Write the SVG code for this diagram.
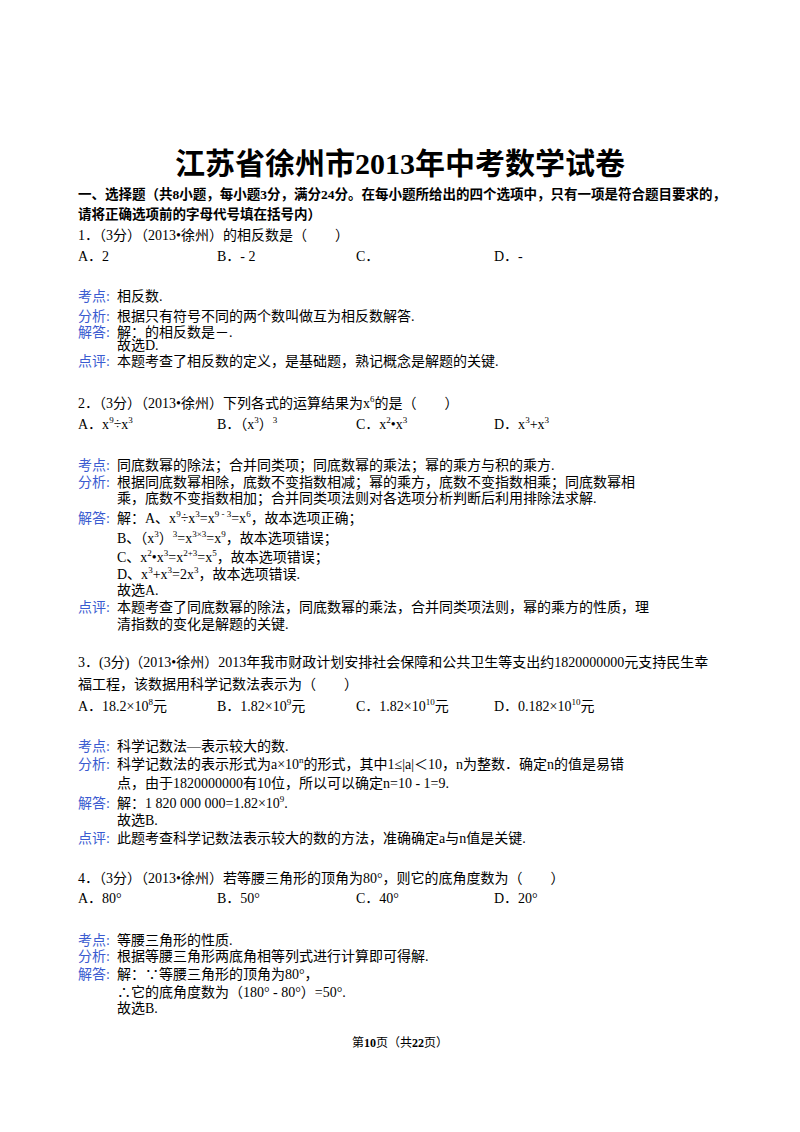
<svg xmlns="http://www.w3.org/2000/svg" width="800" height="1132" viewBox="0 0 800 1132">
<style>
text{font-family:"Liberation Serif","Noto Sans CJK SC",serif;font-size:14px;fill:#000}
.t{font-size:30px;font-weight:bold}
.h{font-size:13.5px;font-weight:bold}
.l{fill:#3a5bd0}
.f{font-size:12px}
</style>
<rect width="800" height="1132" fill="#fff"/>
<text class="t" x="400" y="174" text-anchor="middle">江苏省徐州市2013年中考数学试卷</text>
<text class="h" x="78" y="199">一、选择题（共8小题，每小题3分，满分24分。在每小题所给出的四个选项中，只有一项是符合题目要求的，</text>
<text class="h" x="78" y="219">请将正确选项前的字母代号填在括号内）</text>
<g id="q1">
<text x="78" y="240">1．（3分）（2013•徐州）的相反数是（　　）</text>
<text x="78" y="261">A．2</text><text x="217" y="261">B．- 2</text><text x="356" y="261">C．</text><text x="494" y="261">D．-</text>
<text x="78" y="301"><tspan class="l">考点:</tspan><tspan x="117">相反数.</tspan></text>
<text x="78" y="321"><tspan class="l">分析:</tspan><tspan x="117">根据只有符号不同的两个数叫做互为相反数解答.</tspan></text>
<text x="78" y="337" font-size="13.5"><tspan class="l">解答:</tspan><tspan x="117">解：的相反数是－.</tspan></text>
<text x="117" y="350" font-size="13.5">故选D.</text>
<text x="78" y="366"><tspan class="l">点评:</tspan><tspan x="117">本题考查了相反数的定义，是基础题，熟记概念是解题的关键.</tspan></text>
</g>
<g id="q2">
<text x="78" y="408">2．（3分）（2013•徐州）下列各式的运算结果为x<tspan font-size="9" dy="-6">6</tspan><tspan dy="6">的是（　　）</tspan></text>
<text x="78" y="429">A．x<tspan font-size="9" dy="-6">9</tspan><tspan dy="6">÷x</tspan><tspan font-size="9" dy="-6">3</tspan></text>
<text x="217" y="429">B．（x<tspan font-size="9" dy="-6">3</tspan><tspan dy="6">）</tspan><tspan font-size="9" dy="-6">3</tspan></text>
<text x="356" y="429">C．x<tspan font-size="9" dy="-6">2</tspan><tspan dy="6">•x</tspan><tspan font-size="9" dy="-6">3</tspan></text>
<text x="494" y="429">D．x<tspan font-size="9" dy="-6">3</tspan><tspan dy="6">+x</tspan><tspan font-size="9" dy="-6">3</tspan></text>
<text x="78" y="470"><tspan class="l">考点:</tspan><tspan x="117">同底数幂的除法；合并同类项；同底数幂的乘法；幂的乘方与积的乘方.</tspan></text>
<text x="78" y="487"><tspan class="l">分析:</tspan><tspan x="117">根据同底数幂相除，底数不变指数相减；幂的乘方，底数不变指数相乘；同底数幂相</tspan></text>
<text x="117" y="503">乘，底数不变指数相加；合并同类项法则对各选项分析判断后利用排除法求解.</text>
<text x="78" y="523"><tspan class="l">解答:</tspan><tspan x="117">解：A、x</tspan><tspan font-size="9" dy="-6">9</tspan><tspan dy="6">÷x</tspan><tspan font-size="9" dy="-6">3</tspan><tspan dy="6">=x</tspan><tspan font-size="9" dy="-6">9 - 3</tspan><tspan dy="6">=x</tspan><tspan font-size="9" dy="-6">6</tspan><tspan dy="6">，故本选项正确；</tspan></text>
<text x="117" y="543">B、（x<tspan font-size="9" dy="-6">3</tspan><tspan dy="6">）</tspan><tspan font-size="9" dy="-6">3</tspan><tspan dy="6">=x</tspan><tspan font-size="9" dy="-6">3×3</tspan><tspan dy="6">=x</tspan><tspan font-size="9" dy="-6">9</tspan><tspan dy="6">，故本选项错误；</tspan></text>
<text x="117" y="562">C、x<tspan font-size="9" dy="-6">2</tspan><tspan dy="6">•x</tspan><tspan font-size="9" dy="-6">3</tspan><tspan dy="6">=x</tspan><tspan font-size="9" dy="-6">2+3</tspan><tspan dy="6">=x</tspan><tspan font-size="9" dy="-6">5</tspan><tspan dy="6">，故本选项错误；</tspan></text>
<text x="117" y="579">D、x<tspan font-size="9" dy="-6">3</tspan><tspan dy="6">+x</tspan><tspan font-size="9" dy="-6">3</tspan><tspan dy="6">=2x</tspan><tspan font-size="9" dy="-6">3</tspan><tspan dy="6">，故本选项错误.</tspan></text>
<text x="117" y="595">故选A.</text>
<text x="78" y="612"><tspan class="l">点评:</tspan><tspan x="117">本题考查了同底数幂的除法，同底数幂的乘法，合并同类项法则，幂的乘方的性质，理</tspan></text>
<text x="117" y="629">清指数的变化是解题的关键.</text>
</g>
<g id="q3">
<text x="78" y="667">3．(3分)（2013•徐州）2013年我市财政计划安排社会保障和公共卫生等支出约1820000000元支持民生幸</text>
<text x="78" y="689">福工程，该数据用科学记数法表示为（　　）</text>
<text x="78" y="711">A．18.2×10<tspan font-size="9" dy="-6">8</tspan><tspan dy="6">元</tspan></text>
<text x="217" y="711">B．1.82×10<tspan font-size="9" dy="-6">9</tspan><tspan dy="6">元</tspan></text>
<text x="356" y="711">C．1.82×10<tspan font-size="9" dy="-6">10</tspan><tspan dy="6">元</tspan></text>
<text x="494" y="711">D．0.182×10<tspan font-size="9" dy="-6">10</tspan><tspan dy="6">元</tspan></text>
<text x="78" y="751"><tspan class="l">考点:</tspan><tspan x="117">科学记数法—表示较大的数.</tspan></text>
<text x="78" y="769"><tspan class="l">分析:</tspan><tspan x="117">科学记数法的表示形式为a×10</tspan><tspan font-size="9" dy="-6">n</tspan><tspan dy="6">的形式，其中1≤|a|＜10，n为整数．确定n的值是易错</tspan></text>
<text x="117" y="788">点，由于1820000000有10位，所以可以确定n=10 - 1=9.</text>
<text x="78" y="808"><tspan class="l">解答:</tspan><tspan x="117">解：1 820 000 000=1.82×10</tspan><tspan font-size="9" dy="-6">9</tspan><tspan dy="6">.</tspan></text>
<text x="117" y="825">故选B.</text>
<text x="78" y="843"><tspan class="l">点评:</tspan><tspan x="117">此题考查科学记数法表示较大的数的方法，准确确定a与n值是关键.</tspan></text>
</g>
<g id="q4">
<text x="78" y="883">4．（3分）（2013•徐州）若等腰三角形的顶角为80°，则它的底角度数为（　　）</text>
<text x="78" y="903">A．80°</text><text x="217" y="903">B．50°</text><text x="356" y="903">C．40°</text><text x="494" y="903">D．20°</text>
<text x="78" y="945"><tspan class="l">考点:</tspan><tspan x="117">等腰三角形的性质.</tspan></text>
<text x="78" y="961"><tspan class="l">分析:</tspan><tspan x="117">根据等腰三角形两底角相等列式进行计算即可得解.</tspan></text>
<text x="78" y="979"><tspan class="l">解答:</tspan><tspan x="117">解：∵等腰三角形的顶角为80°，</tspan></text>
<text x="117" y="997">∴它的底角度数为（180° - 80°）=50°.</text>
<text x="117" y="1013">故选B.</text>
</g>
<text class="f" x="400" y="1047" text-anchor="middle">第<tspan font-weight="bold">10</tspan>页（共<tspan font-weight="bold">22</tspan>页）</text>
</svg>
